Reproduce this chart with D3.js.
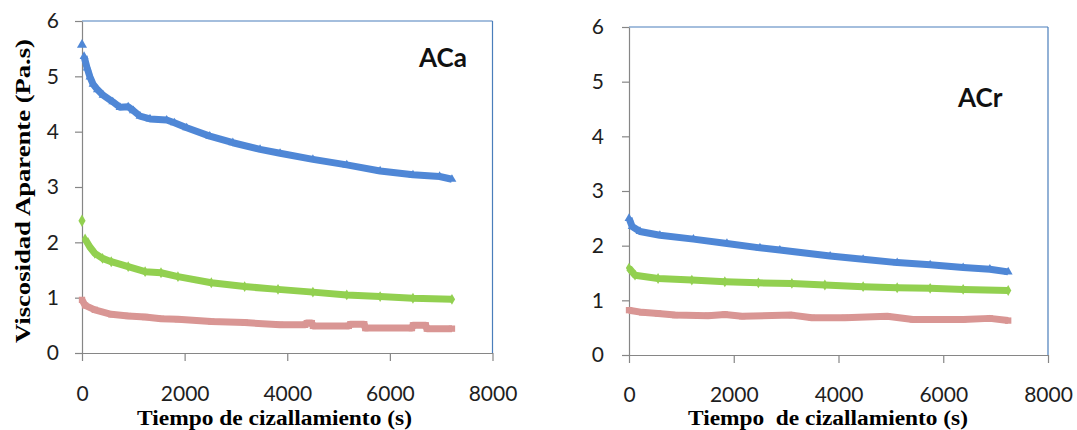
<!DOCTYPE html>
<html><head><meta charset="utf-8">
<script src="https://cdn.jsdelivr.net/npm/d3@7"></script>
<style>body{margin:0;background:#fff}svg{display:block}</style>
</head><body>
<svg id="c" width="1077" height="430"></svg>
<script>
// ---- data ----
const xTicks = [0, 2000, 4000, 6000, 8000];
const yTicks = [0, 1, 2, 3, 4, 5, 6];
const panelNames = ["ACa", "ACr"];
const xTitles = ["Tiempo de cizallamiento (s)", "Tiempo  de cizallamiento (s)"];
const yTitle = "Viscosidad Aparente (Pa.s)";

// ACa : [time (s), apparent viscosity (Pa.s)]
const acaBlue = [[0,5.57],[40,5.36],[100,5.15],[155,4.99],[215,4.86],[300,4.76],[410,4.66],[600,4.54],[740,4.44],[900,4.45],[1000,4.38],[1130,4.28],[1325,4.23],[1650,4.21],[1800,4.16],[2040,4.07],[2490,3.92],[2940,3.80],[3470,3.68],[3860,3.61],[4500,3.50],[5160,3.40],[5810,3.29],[6450,3.22],[6970,3.19],[7210,3.14]];
const acaGreen = [[0,2.39],[60,2.06],[150,1.92],[250,1.80],[400,1.71],[570,1.65],[900,1.56],[1230,1.47],[1540,1.45],[1870,1.38],[2520,1.27],[3170,1.20],[3820,1.15],[4500,1.10],[5160,1.05],[5810,1.02],[6450,0.99],[7210,0.97]];
const acaRed = [[0,0.96],[60,0.86],[250,0.78],[570,0.70],[900,0.67],[1230,0.65],[1540,0.62],[1870,0.61],[2520,0.57],[3170,0.55],[3860,0.51],[4350,0.51],[4380,0.54],[4480,0.54],[4500,0.49],[5200,0.49],[5230,0.52],[5500,0.52],[5520,0.45],[6430,0.45],[6450,0.50],[6700,0.50],[6720,0.44],[7210,0.44]];

// ACr
const acrBlue = [[0,2.50],[60,2.35],[210,2.26],[590,2.19],[1230,2.12],[1870,2.04],[2500,1.96],[2880,1.92],[3840,1.81],[4470,1.75],[5120,1.69],[5750,1.65],[6380,1.60],[6890,1.57],[7240,1.52]];
const acrGreen = [[0,1.59],[115,1.46],[555,1.40],[1200,1.37],[1830,1.34],[2470,1.32],[3110,1.31],[3740,1.28],[4470,1.25],[5120,1.23],[5750,1.22],[6380,1.20],[7240,1.18]];
const acrRed = [[0,0.82],[250,0.78],[555,0.76],[880,0.73],[1510,0.72],[1830,0.74],[2160,0.71],[3110,0.73],[3490,0.68],[4120,0.68],[4930,0.71],[5420,0.65],[6380,0.65],[6890,0.67],[7240,0.63]];

const seriesColors = ["#4f87d6", "#92d050", "#d99694"];
const seriesSymbols = [d3.symbolTriangle, d3.symbolDiamond, d3.symbolSquare];

const panels = [
  {name: panelNames[0], series: [acaBlue, acaGreen, acaRed], isolatedFirst: [true, true, false],
   left: 82, right: 492.5, top: 21, bottom: 353, labelX: 419, labelY: 67,
   xTitle: xTitles[0], xTitleX: 274.5, xTitleLen: 275, xTitleY: 425, yLabPad: 16, xLabBase: 401},
  {name: panelNames[1], series: [acrBlue, acrGreen, acrRed], isolatedFirst: [false, false, false],
   left: 629, right: 1048, top: 27, bottom: 355, labelX: 958, labelY: 107,
   xTitle: xTitles[1], xTitleX: 828, xTitleLen: 280, xTitleY: 425, yLabPad: 18, xLabBase: 402}
];

const svg = d3.select("#c");

panels.forEach(p => {
  const x = d3.scaleLinear().domain([0, 8000]).range([p.left, p.right]);
  const y = d3.scaleLinear().domain([0, 6]).range([p.bottom, p.top]);
  const g = svg.append("g");

  // plot area border (top and right), blue
  g.append("line").attr("x1", p.left).attr("x2", p.right).attr("y1", p.top).attr("y2", p.top)
    .attr("stroke", "#4a7ebb").attr("stroke-width", 1.2);
  g.append("line").attr("x1", p.right).attr("x2", p.right).attr("y1", p.top).attr("y2", p.bottom)
    .attr("stroke", "#4a7ebb").attr("stroke-width", 1.2);

  // y axis
  const ya = g.append("g").attr("transform", `translate(${p.left},0)`)
    .call(d3.axisLeft(y).tickValues(yTicks).tickSize(7).tickSizeOuter(0).tickPadding(p.yLabPad).tickFormat(d3.format("d")));
  // x axis
  const xa = g.append("g").attr("transform", `translate(0,${p.bottom})`)
    .call(d3.axisBottom(x).tickValues(xTicks).tickSize(8).tickSizeOuter(0).tickFormat(d3.format("d")));
  xa.selectAll(".tick text").attr("y", p.xLabBase - p.bottom).attr("dy", 0);
  [ya, xa].forEach(a => {
    a.select(".domain").attr("stroke", "#868686").attr("stroke-width", 1.2);
    a.selectAll(".tick line").attr("stroke", "#868686").attr("stroke-width", 1.2);
    a.selectAll(".tick text").attr("fill", "#1e1e1e")
      .style("font-family", "Lato, 'Open Sans', sans-serif").style("font-size", "21px");
  });

  // series
  p.series.forEach((data, i) => {
    const col = seriesColors[i];
    const band = p.isolatedFirst[i] ? data.slice(1) : data;
    g.append("path").datum(band)
      .attr("d", d3.line().x(d => x(d[0])).y(d => y(d[1])))
      .attr("fill", "none").attr("stroke", col).attr("stroke-width", 7)
      .attr("stroke-linejoin", "round");
    g.selectAll(null).data(data).enter().append("path")
      .attr("transform", d => `translate(${x(d[0])},${y(d[1])})`)
      .attr("d", (d, j) => d3.symbol().type(seriesSymbols[i])
        .size(j === 0 && p.isolatedFirst[i] ? 44 : (i === 2 ? 40 : 34))())
      .attr("fill", col);
  });

  // panel label
  g.append("text").attr("x", p.labelX).attr("y", p.labelY).text(p.name)
    .style("font-family", "Lato, 'Open Sans', sans-serif").style("font-weight", "bold")
    .style("font-size", "26px").attr("fill", "#111");

  // x title
  g.append("text").attr("x", p.xTitleX).attr("y", p.xTitleY).attr("text-anchor", "middle")
    .attr("textLength", p.xTitleLen).attr("lengthAdjust", "spacingAndGlyphs")
    .style("white-space", "pre")
    .text(p.xTitle)
    .style("font-family", "'Liberation Serif', 'Times New Roman', serif").style("font-weight", "bold")
    .style("font-size", "20px").attr("fill", "#000");
});

// y title (left panel only)
svg.append("text").attr("transform", "translate(30,191) rotate(-90)").attr("text-anchor", "middle")
  .attr("textLength", 304).attr("lengthAdjust", "spacingAndGlyphs")
  .text(yTitle)
  .style("font-family", "'Liberation Serif', 'Times New Roman', serif").style("font-weight", "bold")
  .style("font-size", "22px").attr("fill", "#000");
</script>
</body></html>
